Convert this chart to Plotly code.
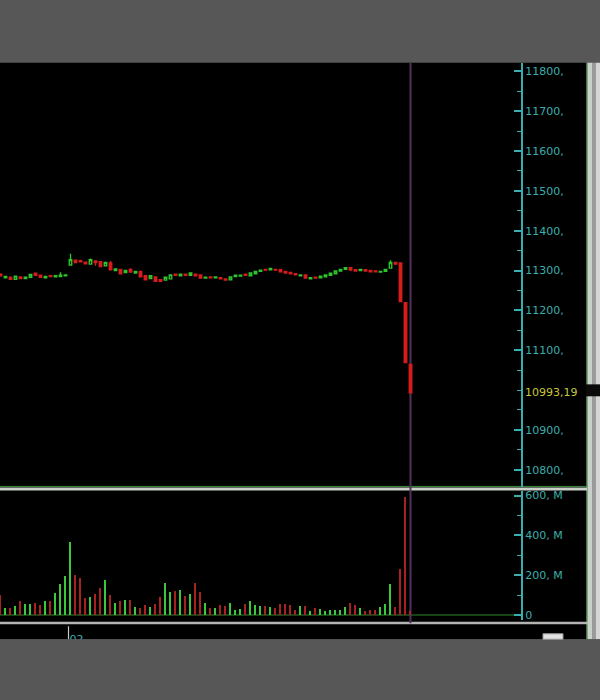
import plotly.graph_objects as go

# ---------------- data ----------------
opens = [11291, 11282, 11283, 11278, 11284, 11280, 11283, 11293, 11288, 11282,
         11287, 11284, 11285, 11287, 11314, 11326, 11325, 11321, 11316, 11324,
         11322, 11312, 11319, 11300, 11303, 11295, 11303, 11294, 11298, 11287,
         11280, 11284, 11277, 11276, 11279, 11291, 11287, 11291, 11288, 11291,
         11289, 11281, 11284, 11282, 11282, 11279, 11277, 11285, 11286, 11291,
         11287, 11292, 11298, 11303, 11302, 11303, 11302, 11298, 11295, 11292,
         11287, 11289, 11279, 11283, 11282, 11284, 11288, 11292, 11299, 11303,
         11307, 11302, 11300, 11302, 11300, 11299, 11296, 11298, 11306, 11320,
         11319, 11219, 11064]
highs = [11293, 11286, 11284, 11287, 11285, 11284, 11291, 11294, 11289, 11286,
         11288, 11288, 11296, 11290, 11342, 11328, 11327, 11322, 11330, 11325,
         11323, 11321, 11324, 11305, 11304, 11301, 11306, 11299, 11299, 11288,
         11288, 11285, 11278, 11284, 11290, 11292, 11292, 11292, 11295, 11292,
         11290, 11284, 11285, 11285, 11283, 11280, 11285, 11289, 11289, 11292,
         11295, 11299, 11302, 11304, 11306, 11304, 11303, 11299, 11296, 11293,
         11290, 11290, 11283, 11284, 11287, 11290, 11294, 11300, 11304, 11308,
         11308, 11303, 11304, 11303, 11301, 11300, 11299, 11304, 11326, 11321,
         11320, 11220, 11065]
lows = [11285, 11281, 11276, 11277, 11279, 11279, 11282, 11287, 11282, 11281,
        11284, 11283, 11284, 11286, 11312, 11319, 11321, 11316, 11315, 11312,
        11309, 11311, 11301, 11299, 11291, 11294, 11295, 11293, 11283, 11276,
        11279, 11272, 11272, 11275, 11278, 11287, 11286, 11287, 11287, 11286,
        11280, 11280, 11281, 11281, 11278, 11275, 11276, 11284, 11285, 11287,
        11286, 11291, 11297, 11300, 11301, 11300, 11296, 11293, 11291, 11288,
        11286, 11280, 11278, 11280, 11281, 11283, 11287, 11291, 11298, 11302,
        11300, 11298, 11299, 11298, 11296, 11296, 11295, 11297, 11305, 11315,
        11221, 11068, 10993.19]
closes = [11287, 11285, 11278, 11286, 11280, 11283, 11290, 11288, 11283, 11285,
          11285, 11287, 11288, 11289, 11327, 11320, 11322, 11317, 11327, 11320,
          11310, 11320, 11302, 11304, 11292, 11300, 11296, 11298, 11284, 11277,
          11287, 11273, 11273, 11283, 11289, 11288, 11291, 11288, 11294, 11287,
          11281, 11283, 11282, 11284, 11279, 11276, 11284, 11288, 11288, 11288,
          11294, 11298, 11301, 11301, 11305, 11301, 11297, 11294, 11292, 11289,
          11289, 11281, 11282, 11281, 11286, 11289, 11293, 11299, 11303, 11307,
          11301, 11299, 11303, 11299, 11297, 11297, 11298, 11303, 11320, 11316,
          11222, 11069, 10993.19]
volumes_m = [100, 37, 37, 45, 70, 58, 55, 63, 53, 70,
             70, 112, 158, 195, 367, 203, 188, 87, 92, 105,
             137, 175, 103, 63, 70, 75, 75, 42, 37, 53,
             42, 58, 92, 163, 117, 122, 125, 95, 105, 163,
             115, 63, 38, 38, 50, 45, 63, 28, 33, 55,
             70, 50, 45, 47, 42, 38, 55, 58, 50, 28,
             45, 45, 22, 37, 33, 22, 28, 28, 28, 42,
             63, 53, 38, 22, 28, 28, 42, 55, 158, 42,
             233, 592, 20]
bars = list(range(len(closes)))
last_price = closes[-1]
price_tick_vals = [11800, 11700, 11600, 11500, 11400, 11300, 11200, 11100, 10900, 10800]
price_tick_text = ["11800,", "11700,", "11600,", "11500,", "11400,", "11300,",
                   "11200,", "11100,", "10900,", "10800,"]
vol_tick_vals = [0, 200e6, 400e6, 600e6]
vol_tick_text = ["0", "200, M", "400, M", "600, M"]
time_tick_vals = [15.2]
time_tick_text = ["02"]

# ---------------- style ----------------
W, H = 600, 700
TEAL = "#3aaeae"
UP = "#2ec42e"
DOWN = "#d81c1c"
VUP = "#3cc83c"
VDOWN = "#a82222"
GRAY = "#575757"


def px(x):
    return x / W


def py(y):
    return 1 - y / H


volumes = [v * 1e6 for v in volumes_m]
vol_colors = [VUP if c >= o else VDOWN for o, c in zip(opens, closes)]

fig = go.Figure()
fig.add_trace(go.Candlestick(
    x=bars, open=opens, high=highs, low=lows, close=closes,
    xaxis="x", yaxis="y",
    increasing=dict(line=dict(color=UP, width=1.4), fillcolor="black"),
    decreasing=dict(line=dict(color=DOWN, width=1.4), fillcolor=DOWN),
    whiskerwidth=0, showlegend=False, hoverinfo="skip",
))
fig.add_trace(go.Bar(
    x=bars, y=volumes, xaxis="x2", yaxis="y2",
    marker=dict(color=vol_colors, line=dict(width=0)),
    width=0.32, showlegend=False, hoverinfo="skip",
))

xr = [-0.1, -0.1 + 521 / 5]
xdom = [0, px(521)]
tickfont = dict(family="DejaVu Sans", size=11, color=TEAL)

shapes = [
    dict(type="rect", xref="paper", yref="paper", x0=0, x1=px(586), y0=py(641), y1=py(62),
         fillcolor="black", line=dict(width=0), layer="below"),
    dict(type="rect", xref="paper", yref="paper", x0=px(586), x1=px(587.5), y0=py(641), y1=py(62),
         fillcolor="#3a7a3a", line=dict(width=0), layer="below"),
    dict(type="rect", xref="paper", yref="paper", x0=px(587.5), x1=px(592.5), y0=py(641), y1=py(62),
         fillcolor="#c9cfc9", line=dict(width=0), layer="below"),
    dict(type="rect", xref="paper", yref="paper", x0=px(592.5), x1=px(596), y0=py(641), y1=py(62),
         fillcolor="#9c9c9c", line=dict(width=0), layer="below"),
    dict(type="rect", xref="paper", yref="paper", x0=px(596), x1=1, y0=py(641), y1=py(62),
         fillcolor="#d6d6d6", line=dict(width=0), layer="below"),
    dict(type="line", xref="paper", yref="paper", x0=0, x1=px(586), y0=py(487.5), y1=py(487.5),
         line=dict(color="#3c8c3c", width=1), layer="below"),
    dict(type="rect", xref="paper", yref="paper", x0=0, x1=px(587), y0=py(491.5), y1=py(488.5),
         fillcolor="#c8d0c8", line=dict(width=0), layer="below"),
    dict(type="rect", xref="paper", yref="paper", x0=0, x1=px(588), y0=py(626), y1=py(623.5),
         fillcolor="#b4b4b4", line=dict(width=0), layer="below"),
    dict(type="line", xref="paper", yref="y2", x0=0, x1=px(521), y0=0, y1=0,
         line=dict(color="#1f5a1f", width=1.5), layer="below"),
    dict(type="line", xref="x", yref="paper", x0=bars[-1], x1=bars[-1], y0=py(625), y1=py(62),
         line=dict(color="#52305e", width=2), layer="below"),
    dict(type="rect", xref="paper", yref="paper", x0=px(586), x1=1, y0=py(397), y1=py(385),
         fillcolor="#0a0a0a", line=dict(width=0), layer="below"),
    dict(type="line", xref="paper", yref="paper", x0=px(68.5), x1=px(68.5), y0=py(641), y1=py(628),
         line=dict(color="#c8c8c8", width=1.2), layer="above"),
    dict(type="rect", xref="paper", yref="paper", x0=0, x1=1, y0=0, y1=py(641),
         fillcolor=GRAY, line=dict(width=0), layer="above"),
    dict(type="rect", xref="paper", yref="paper", x0=px(543), x1=px(563), y0=py(641), y1=py(635.5),
         fillcolor="#e2e2e2", line=dict(color="#9a9a9a", width=1), layer="above"),
]

annotations = [
    dict(xref="paper", yref="y", x=px(523), y=last_price, text="10993,19",
         showarrow=False, xanchor="left", yanchor="middle",
         font=dict(family="DejaVu Sans", size=11, color="#c8c83a")),
]

fig.update_layout(
    width=W, height=H,
    margin=dict(l=0, r=0, t=0, b=0),
    paper_bgcolor=GRAY,
    plot_bgcolor="rgba(0,0,0,0)",
    showlegend=False,
    bargap=0,
    xaxis=dict(domain=xdom, range=xr, anchor="y", visible=False,
               rangeslider=dict(visible=False), fixedrange=True),
    yaxis=dict(domain=[py(488), py(62)], range=[10756.75, 11821.75], anchor="x",
               side="right", showgrid=False, zeroline=False,
               showline=True, linecolor=TEAL, linewidth=2,
               ticks="inside", ticklen=7, tickwidth=2, tickcolor=TEAL,
               tickvals=price_tick_vals, ticktext=price_tick_text, tickfont=tickfont,
               minor=dict(ticks="inside", ticklen=4, tickwidth=1, tickcolor=TEAL,
                          tick0=0, dtick=50)),
    xaxis2=dict(domain=xdom, range=xr, anchor="y2", showgrid=False, zeroline=False,
                showline=False, ticks="", tickvals=time_tick_vals, ticktext=time_tick_text,
                tickfont=tickfont, ticklabelstandoff=11),
    yaxis2=dict(domain=[py(622), py(492)], range=[-26.5e6, 623.5e6], anchor="x2",
                side="right", showgrid=False, zeroline=False,
                showline=True, linecolor=TEAL, linewidth=2,
                ticks="inside", ticklen=7, tickwidth=2, tickcolor=TEAL,
                tickvals=vol_tick_vals, ticktext=vol_tick_text, tickfont=tickfont,
                minor=dict(ticks="inside", ticklen=4, tickwidth=1, tickcolor=TEAL,
                           tick0=0, dtick=100e6)),
    shapes=shapes,
    annotations=annotations,
)

fig.write_html("out.html", config={"displayModeBar": False},
               post_script="document.body.style.margin='0';document.body.style.overflow='hidden';")
